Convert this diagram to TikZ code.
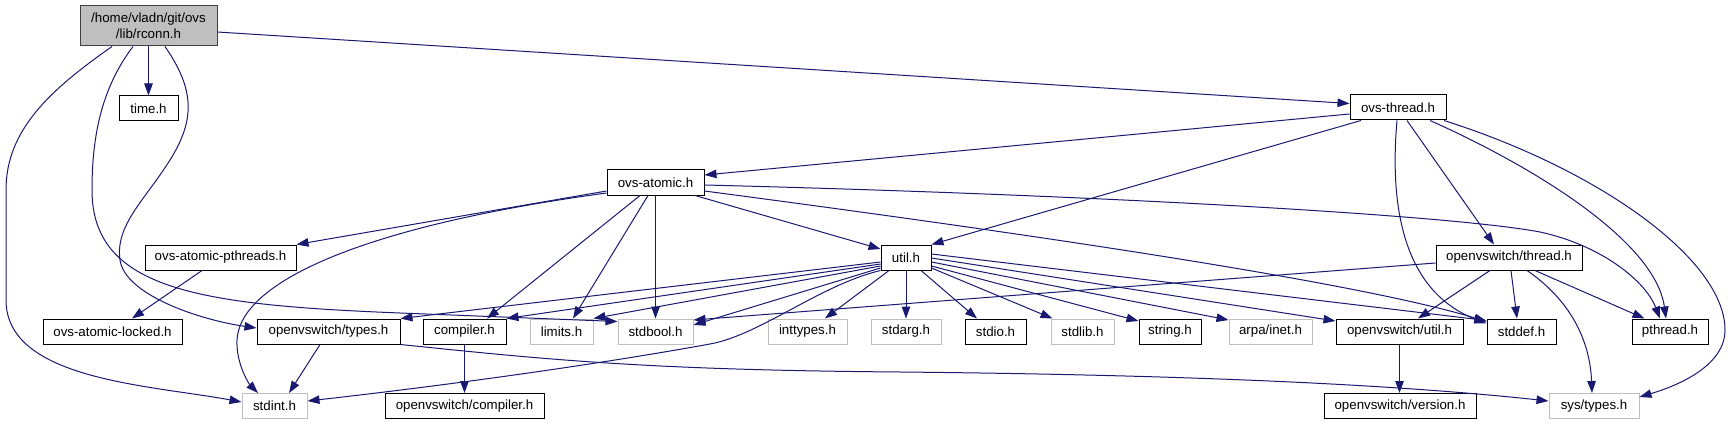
\documentclass[tikz,border=0pt]{standalone}
\usepackage{fontspec}
\setmainfont{Liberation Sans}
\usetikzlibrary{arrows.meta,calc}
\definecolor{edgecol}{HTML}{191970}
\definecolor{extgray}{HTML}{BFBFBF}
\definecolor{rootfill}{HTML}{BFBFBF}
\definecolor{rootdraw}{HTML}{404040}
\begin{document}
\begin{tikzpicture}[x=1pt,y=-1pt,
  file/.style={draw=black,fill=white,line width=1pt,minimum height=25pt,inner sep=0pt,font=\fontsize{13.3}{15}\selectfont},
  ext/.style={file,draw=extgray},
  root/.style={file,fill=rootfill,draw=rootdraw,minimum height=40pt,align=center,font=\fontsize{13.3}{16}\selectfont},
  inc/.style={draw=edgecol,line width=1pt,-{Triangle[length=12pt,width=8.5pt,color=edgecol]}},
]
\useasboundingbox (0,0) rectangle (1730,425);
% nodes
\node[root,minimum width=137pt] (rconn) at (148.5,26) {/home/vladn/git/ovs\\/lib/rconn.h};
\node[file,minimum width=59pt] (timeh) at (148.5,108.5) {time.h};
\node[file,minimum width=96pt] (othread) at (1398,107.5) {ovs-thread.h};
\node[file,minimum width=97pt] (oatomic) at (655.5,182.5) {ovs-atomic.h};
\node[file,minimum width=151pt] (opthreads) at (220.5,257.5) {ovs-atomic-pthreads.h};
\node[file,minimum width=50pt] (util) at (906,257.5) {util.h};
\node[file,minimum width=146pt] (ovsthread) at (1509,257.5) {openvswitch/thread.h};
\node[file,minimum width=139pt] (locked) at (112.5,331.5) {ovs-atomic-locked.h};
\node[file,minimum width=143pt] (types) at (328.5,331.5) {openvswitch/types.h};
\node[file,minimum width=83pt] (compiler) at (464.5,331.5) {compiler.h};
\node[ext,minimum width=63pt] (limits) at (561.5,331.5) {limits.h};
\node[ext,minimum width=75pt] (stdbool) at (655.5,331.5) {stdbool.h};
\node[ext,minimum width=79pt] (inttypes) at (807.5,331.5) {inttypes.h};
\node[ext,minimum width=70pt] (stdarg) at (906,331.5) {stdarg.h};
\node[file,minimum width=61pt] (stdio) at (995.5,331.5) {stdio.h};
\node[ext,minimum width=63pt] (stdlib) at (1082.5,331.5) {stdlib.h};
\node[file,minimum width=62pt] (string) at (1170,331.5) {string.h};
\node[ext,minimum width=83pt] (arpa) at (1270.5,331.5) {arpa/inet.h};
\node[file,minimum width=127pt] (ovsutil) at (1399.5,331.5) {openvswitch/util.h};
\node[file,minimum width=69pt] (stddef) at (1521.5,331.5) {stddef.h};
\node[file,minimum width=76pt] (pthread) at (1670,331.5) {pthread.h};
\node[ext,minimum width=65pt] (stdint) at (274.5,406) {stdint.h};
\node[file,minimum width=159pt] (ovscompiler) at (464.5,406) {openvswitch/compiler.h};
\node[file,minimum width=152pt] (ovsversion) at (1400,406) {openvswitch/version.h};
\node[ext,minimum width=90pt] (systypes) at (1594,406) {sys/types.h};
% rconn.h
\draw[inc] (rconn.south) -- (timeh.north);
\draw[inc] ($(rconn.east)+(0,6)$) -- ($(othread.west)+(0,-4)$);
\draw[inc] ($(rconn.south)+(-36.5,0)$) .. controls (50,90) and (6,130) .. (6,190) -- (6,300) .. controls (6,380) and (150,385) .. ($(stdint.west)+(0,-4)$);
\draw[inc] ($(rconn.south)+(-15.5,0)$) .. controls (100,90) and (92,140) .. (92,190) .. controls (92,290) and (200,305) .. (400,313) -- ($(stdbool.west)+(0,-10)$);
\draw[inc] ($(rconn.south)+(16.5,0)$) .. controls (195,90) and (195,120) .. (170,160) .. controls (145,200) and (115,225) .. (120,260) .. controls (125,295) and (200,320) .. ($(types.west)+(0,-3.5)$);
% ovs-thread.h
\draw[inc] ($(othread.west)+(0,6.5)$) -- ($(oatomic.east)+(0,-7.5)$);
\draw[inc] ($(othread.south)+(-37,0)$) -- (util.north east);
\draw[inc] ($(othread.south)+(-1,0)$) .. controls (1390,200) and (1400,290) .. ($(stddef.west)+(0,-8)$);
\draw[inc] ($(othread.south)+(9,0)$) -- ($(ovsthread.north)+(-15,0)$);
\draw[inc] ($(othread.south)+(32,0)$) .. controls (1530,165) and (1655,240) .. ($(pthread.north)+(-4,0)$);
\draw[inc] ($(othread.south)+(46,0)$) .. controls (1600,170) and (1725,260) .. (1725,330) .. controls (1725,365) and (1680,385) .. ($(systypes.east)+(0,-9)$);
% ovs-atomic.h
\draw[inc] ($(oatomic.west)+(0,8.5)$) -- (opthreads.north east);
\draw[inc] ($(oatomic.west)+(0,10.5)$) .. controls (370,225) and (240,280) .. (237,340) .. controls (236,365) and (250,385) .. ($(stdint.north)+(-16.5,0)$);
\draw[inc] ($(oatomic.south)+(-15.5,0)$) -- ($(compiler.north)+(22.5,0)$);
\draw[inc] ($(oatomic.south)+(-7.5,0)$) -- ($(limits.north)+(11.5,0)$);
\draw[inc] (oatomic.south) -- (stdbool.north);
\draw[inc] ($(oatomic.south)+(39.5,0)$) -- ($(util.west)+(0,-8.5)$);
\draw[inc] ($(oatomic.east)+(0,8.5)$) .. controls (1000,230) and (1350,280) .. ($(stddef.west)+(0,-10)$);
\draw[inc] ($(oatomic.east)+(0,2.5)$) .. controls (1100,195) and (1450,215) .. (1540,232) .. controls (1600,245) and (1645,280) .. ($(pthread.north)+(-10,0)$);
% ovs-atomic-pthreads.h
\draw[inc] ($(opthreads.south)+(-18.5,0)$) -- ($(locked.north)+(19.5,0)$);
% util.h
\draw[inc] ($(util.west)+(0,4.5)$) -- (types.north east);
\draw[inc] ($(util.west)+(0,6.5)$) -- (compiler.north east);
\draw[inc] ($(util.west)+(0,8.5)$) -- (limits.north east);
\draw[inc] ($(util.west)+(0,10.5)$) -- ($(stdbool.east)+(0,-6.5)$);
\draw[inc] (util.south west) .. controls (820,285) and (760,335) .. (710,344) .. controls (600,364) and (450,385) .. ($(stdint.east)+(0,-5)$);
\draw[inc] ($(util.south)+(-17,0)$) -- ($(inttypes.north)+(17.5,0)$);
\draw[inc] (util.south) -- (stdarg.north);
\draw[inc] ($(util.south)+(15,0)$) -- ($(stdio.north)+(-18.5,0)$);
\draw[inc] ($(util.east)+(0,10.5)$) -- ($(stdlib.north west)+(2,0)$);
\draw[inc] ($(util.east)+(0,8.5)$) -- ($(string.west)+(0,-10.5)$);
\draw[inc] ($(util.east)+(0,4.5)$) -- ($(arpa.west)+(0,-11.5)$);
\draw[inc] ($(util.east)+(0,0.5)$) -- ($(ovsutil.west)+(0,-10.5)$);
\draw[inc] ($(util.east)+(0,-3.5)$) -- ($(stddef.west)+(0,-11)$);
% openvswitch/thread.h
\draw[inc] ($(ovsthread.west)+(0,5.5)$) -- ($(stdbool.east)+(0,-11.5)$);
\draw[inc] ($(ovsthread.south)+(-19,0)$) -- ($(ovsutil.north)+(18.5,0)$);
\draw[inc] ($(ovsthread.south)+(2,0)$) -- ($(stddef.north)+(-4.5,0)$);
\draw[inc] ($(ovsthread.south)+(26,0)$) -- ($(pthread.north west)+(13,0)$);
\draw[inc] ($(ovsthread.south)+(18,0)$) .. controls (1570,300) and (1590,340) .. ($(systypes.north)+(-2,0)$);
% openvswitch/types.h
\draw[inc] ($(types.south)+(-8.5,0)$) -- ($(stdint.north)+(14.5,0)$);
\draw[inc] (types.south east) .. controls (550,360) and (650,370) .. (900,372) .. controls (1200,375) and (1400,385) .. ($(systypes.west)+(0,-5)$);
% others
\draw[inc] (compiler.south) -- (ovscompiler.north);
\draw[inc] (ovsutil.south) -- (ovsutil.south |- ovsversion.north);
\end{tikzpicture}
\end{document}
